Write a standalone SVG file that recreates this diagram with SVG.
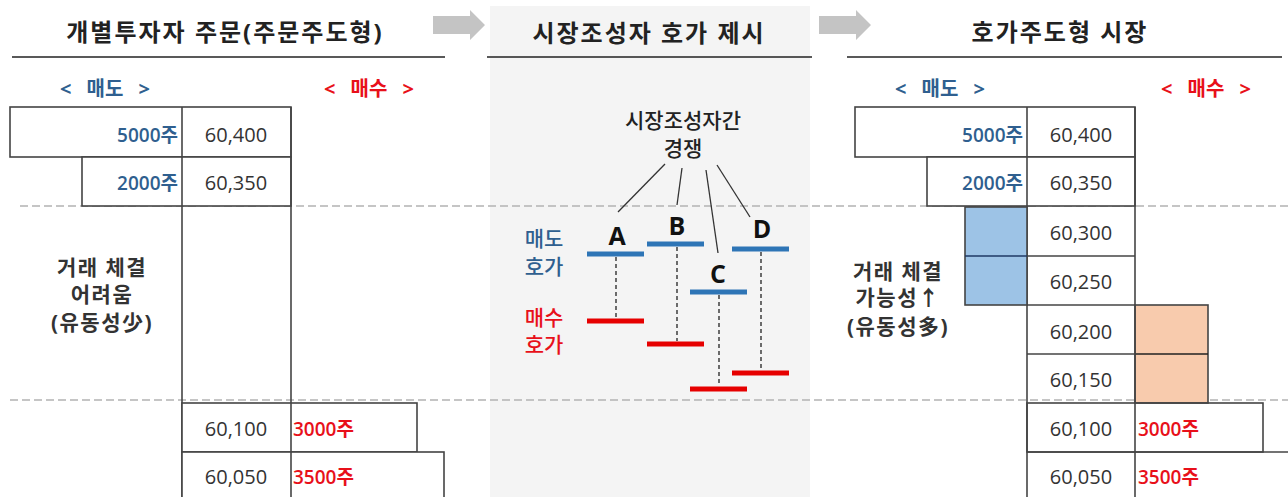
<svg xmlns="http://www.w3.org/2000/svg" width="1288" height="497" viewBox="0 0 1288 497">
<style>
text{font-family:"Open Sans","Noto Sans CJK KR",sans-serif;}
.title{font-size:24px;font-weight:700;fill:#222;text-anchor:middle;letter-spacing:2px;}
.ul{stroke:#222;stroke-width:1.6;}
.hdr{font-size:20px;font-weight:700;text-anchor:middle;word-spacing:10px;}
.sell{fill:#2f5f8f;}
.buy{fill:#e8101a;}
.cell{fill:#fff;stroke:#444;stroke-width:1.6;}
.ln{stroke:#444;stroke-width:1.6;fill:none;}
.num{font-size:20px;fill:#333;text-anchor:middle;}
.qty{font-size:19px;font-weight:600;}
.note{font-size:21px;font-weight:700;fill:#333;text-anchor:middle;letter-spacing:1.5px;}
.dash{stroke:#b3b3b3;stroke-width:1.6;stroke-dasharray:8 4;}
.arrow{fill:#c4c4c4;}
.bs{stroke:#2e75b6;stroke-width:5;}
.bb{stroke:#e60000;stroke-width:5;}
.vd{stroke:#222;stroke-width:1.3;stroke-dasharray:4 3;}
.cn{stroke:#333;stroke-width:1.3;}
.ltr{font-size:25px;font-weight:700;fill:#111;text-anchor:middle;}
.mid{font-size:21px;font-weight:500;text-anchor:middle;}
</style>
<defs>
<path id="arr" d="M0,6 H37 V0 L52,15 L37,30 V24 H0 Z"/>
</defs>

<rect id="mid-bg" x="490" y="6" width="320" height="491" fill="#f4f4f4"/>

<g id="arrows">
<use href="#arr" x="433" y="10" class="arrow"/>
<use href="#arr" x="819" y="10" class="arrow"/>
</g>

<g id="guides">
<line class="dash" x1="20" y1="206" x2="1288" y2="206"/>
<line class="dash" x1="10" y1="400" x2="1288" y2="400"/>
</g>

<!-- Left panel -->
<g id="left-panel">
<text class="title" x="225" y="41">개별투자자 주문(주문주도형)</text>
<line class="ul" x1="12" y1="57" x2="445" y2="57"/>
<text class="hdr sell" x="105" y="96">&lt; 매도 &gt;</text>
<text class="hdr buy" x="369" y="96">&lt; 매수 &gt;</text>
<rect class="cell" x="10" y="107" width="281" height="50"/>
<rect class="cell" x="82" y="157" width="209" height="49"/>
<line class="ln" x1="182" y1="107" x2="182" y2="497"/>
<line class="ln" x1="291" y1="107" x2="291" y2="403"/>
<rect class="cell" x="182" y="403" width="235" height="49"/>
<rect class="cell" x="182" y="452" width="262" height="50"/>
<line class="ln" x1="291" y1="403" x2="291" y2="497"/>
<text class="qty sell" x="178" y="142" text-anchor="end">5000주</text>
<text class="num" x="236" y="142">60,400</text>
<text class="qty sell" x="178" y="190" text-anchor="end">2000주</text>
<text class="num" x="236" y="190">60,350</text>
<text class="num" x="236" y="436">60,100</text>
<text class="qty buy" x="293" y="436">3000주</text>
<text class="num" x="236" y="484">60,050</text>
<text class="qty buy" x="293" y="484">3500주</text>
<text class="note" x="102" y="275">거래 체결</text>
<text class="note" x="102" y="302">어려움</text>
<text class="note" x="102" y="330">(유동성少)</text>
</g>

<!-- Middle panel -->
<g id="middle-panel">
<text class="title" x="649" y="42">시장조성자 호가 제시</text>
<line class="ul" x1="487" y1="57" x2="812" y2="57"/>
<text class="mid" x="683" y="128" fill="#222">시장조성자간</text>
<text class="mid" x="683" y="156" fill="#222">경쟁</text>
<text class="mid sell" x="544" y="246">매도</text>
<text class="mid sell" x="544" y="274">호가</text>
<text class="mid buy" x="544" y="325">매수</text>
<text class="mid buy" x="544" y="352">호가</text>
</g>

<g id="mm-A">
<text class="ltr" x="617" y="245">A</text>
<line class="bs" x1="587" y1="254" x2="644" y2="254"/>
<line class="bb" x1="587" y1="321" x2="644" y2="321"/>
<line class="vd" x1="616" y1="257" x2="616" y2="318"/>
</g>
<g id="mm-B">
<text class="ltr" x="677" y="235">B</text>
<line class="bs" x1="647" y1="244" x2="704" y2="244"/>
<line class="bb" x1="647" y1="344" x2="704" y2="344"/>
<line class="vd" x1="677" y1="247" x2="677" y2="341"/>
</g>
<g id="mm-C">
<text class="ltr" x="718" y="283">C</text>
<line class="bs" x1="690" y1="292" x2="747" y2="292"/>
<line class="bb" x1="690" y1="389" x2="747" y2="389"/>
<line class="vd" x1="719" y1="295" x2="719" y2="386"/>
</g>
<g id="mm-D">
<text class="ltr" x="762" y="238">D</text>
<line class="bs" x1="732" y1="249" x2="789" y2="249"/>
<line class="bb" x1="732" y1="373" x2="789" y2="373"/>
<line class="vd" x1="761" y1="252" x2="761" y2="370"/>
</g>

<g id="connectors">
<line class="cn" x1="665" y1="164" x2="618" y2="212"/>
<line class="cn" x1="682" y1="168" x2="677" y2="205"/>
<line class="cn" x1="706" y1="170" x2="718" y2="253"/>
<line class="cn" x1="717" y1="165" x2="750" y2="217"/>
</g>

<!-- Right panel -->
<g id="right-panel">
<text class="title" x="1060" y="41">호가주도형 시장</text>
<line class="ul" x1="847" y1="57" x2="1282" y2="57"/>
<text class="hdr sell" x="940" y="96">&lt; 매도 &gt;</text>
<text class="hdr buy" x="1206" y="96">&lt; 매수 &gt;</text>
<rect class="cell" x="855" y="107" width="280" height="50"/>
<rect class="cell" x="927" y="157" width="208" height="49"/>
<line class="ln" x1="1027" y1="107" x2="1027" y2="497"/>
<rect x="965" y="207" width="62" height="98" fill="#9dc3e6" stroke="#444" stroke-width="1.6"/>
<line x1="965" y1="256" x2="1027" y2="256" stroke="#1f3864" stroke-width="1.6"/>
<rect x="1135" y="305" width="73" height="98" fill="#f8cbad" stroke="#444" stroke-width="1.6"/>
<line x1="1135" y1="354" x2="1208" y2="354" stroke="#222" stroke-width="1.6"/>
<line class="ln" x1="1135" y1="107" x2="1135" y2="497"/>
<line class="ln" x1="1027" y1="256" x2="1135" y2="256"/>
<line class="ln" x1="1027" y1="305" x2="1135" y2="305"/>
<line class="ln" x1="1027" y1="354" x2="1135" y2="354"/>
<rect x="1027" y="403" width="236" height="49" fill="none" stroke="#444" stroke-width="1.6"/>
<line class="ln" x1="1027" y1="452" x2="1288" y2="452"/>
<text class="qty sell" x="1023" y="142" text-anchor="end">5000주</text>
<text class="num" x="1081" y="142">60,400</text>
<text class="qty sell" x="1023" y="190" text-anchor="end">2000주</text>
<text class="num" x="1081" y="190">60,350</text>
<text class="num" x="1081" y="240">60,300</text>
<text class="num" x="1081" y="289">60,250</text>
<text class="num" x="1081" y="339">60,200</text>
<text class="num" x="1081" y="387">60,150</text>
<text class="num" x="1081" y="436">60,100</text>
<text class="qty buy" x="1138" y="436">3000주</text>
<text class="num" x="1081" y="484">60,050</text>
<text class="qty buy" x="1138" y="484">3500주</text>
<text class="note" x="898" y="279">거래 체결</text>
<text class="note" x="898" y="305">가능성↑</text>
<text class="note" x="898" y="334">(유동성多)</text>
</g>
</svg>
